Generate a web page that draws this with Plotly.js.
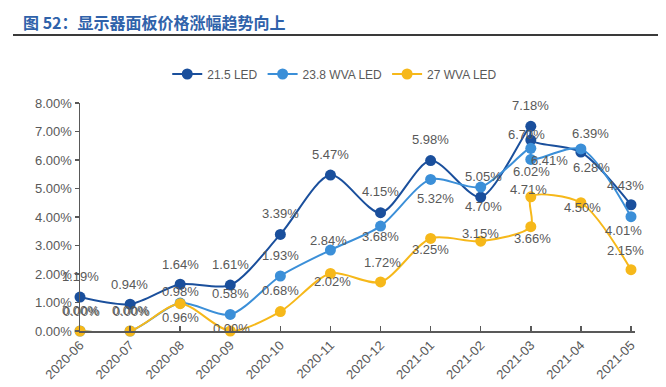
<!DOCTYPE html>
<html>
<head>
<meta charset="utf-8">
<script src="https://cdn.plot.ly/plotly-3.0.1.min.js"></script>
<style>html,body{margin:0;padding:0;background:#fff;}#chart{width:666px;height:387px;}</style>
</head>
<body>
<div id="chart"></div>
<script>
// Categories (2021-03 has two readings, both plotted in the 2021-03 column)
const months = ['2020-06','2020-07','2020-08','2020-09','2020-10','2020-11','2020-12','2021-01','2021-02','2021-03','2021-03','2021-04','2021-05'];
const tickMonths = ['2020-06','2020-07','2020-08','2020-09','2020-10','2020-11','2020-12','2021-01','2021-02','2021-03','2021-04','2021-05'];
const led215 = [1.19, 0.94, 1.64, 1.61, 3.39, 5.47, 4.15, 5.98, 4.70, 7.18, 6.70, 6.28, 4.43];
const wva238 = [0.00, 0.00, 0.98, 0.58, 1.93, 2.84, 3.68, 5.32, 5.05, 6.41, 6.02, 6.39, 4.01];
const wva27  = [0.00, 0.00, 0.96, 0.00, 0.68, 2.02, 1.72, 3.25, 3.15, 3.66, 4.71, 4.50, 2.15];
const seriesNames = ['21.5 LED', '23.8 WVA LED', '27 WVA LED'];
const yTicks = [0, 1, 2, 3, 4, 5, 6, 7, 8];

// label offsets in pixels [dx, dy(up)] relative to each point
const off215 = [[0,21],[-1,20],[0,20],[0,21],[0,21],[0,21],[0,21],[0,21],[3,-9],[0,21],[-4,6],[11,-15],[-5,19]];
const off238 = [[0,21],[0,21],[0,12],[0,21],[0,21],[-2,10],[0,-10],[5,-19],[3,11],[19,-12],[1,-12],[10,15],[-7,-14]];
const off27  = [[1,20],[1,20],[0,-14],[1,3],[0,21],[2,-8],[2,19],[0,-11],[0,8],[2,-12],[-2,7],[2,-5],[-5,19]];

const colors = ['#1a4f9c', '#3b8fd8', '#f6b81a'];
const fmt = v => v.toFixed(2) + '%';
const fam = 'Liberation Sans, Arial, sans-serif';

function mk(y, i) {
  return {
    x: months, y: y, name: seriesNames[i], type: 'scatter', mode: 'lines+markers',
    line: {color: colors[i], width: 2, shape: 'spline', smoothing: 0.8},
    marker: {color: colors[i], size: 11},
    cliponaxis: false, hoverinfo: 'skip'
  };
}

const data = [mk(led215, 0), mk(wva238, 1), mk(wva27, 2)];

const annotations = [];
[[led215, off215], [wva238, off238], [wva27, off27]].forEach(([vals, offs]) => {
  vals.forEach((v, i) => {
    annotations.push({
      xref: 'x', yref: 'y', x: months[i], y: v, text: fmt(v), showarrow: false,
      xanchor: 'center', yanchor: 'middle', xshift: offs[i][0], yshift: offs[i][1],
      font: {family: fam, size: 13, color: '#595959'}
    });
  });
});

const layout = {
  width: 666, height: 387,
  margin: {l: 80, r: 31, t: 103, b: 56},
  paper_bgcolor: '#fff', plot_bgcolor: '#fff',
  font: {family: fam, size: 12, color: '#595959'},
  title: {
    text: '<b>图 52：显示器面板价格涨幅趋势向上</b>',
    font: {family: 'Noto Sans CJK SC, sans-serif', size: 16, color: '#2f62aa'},
    xref: 'container', yref: 'container', x: 23/666, xanchor: 'left', y: 1 - 23.5/387, yanchor: 'middle'
  },
  showlegend: true,
  legend: {
    orientation: 'h', x: 0.459, xanchor: 'center', y: (331-74)/228, yanchor: 'middle',
    font: {family: fam, size: 12, color: '#595959'},
    bgcolor: 'rgba(0,0,0,0)', itemwidth: 30, tracegroupgap: 0
  },
  xaxis: {
    type: 'category', categoryorder: 'array', categoryarray: tickMonths,
    range: [0, 11.08], showgrid: false, zeroline: false,
    showline: true, linecolor: '#595959', linewidth: 1.5,
    ticks: 'inside', ticklen: 5, tickcolor: '#595959', tickwidth: 1.5,
    tickangle: -45, tickfont: {size: 13, color: '#595959'}
  },
  yaxis: {
    range: [0, 8], tickvals: yTicks, ticktext: yTicks.map(fmt),
    showgrid: false, zeroline: false,
    showline: true, linecolor: '#595959', linewidth: 1.5,
    ticks: 'outside', ticklen: 4, tickcolor: '#595959', tickwidth: 1.5,
    tickfont: {size: 13, color: '#595959'}
  },
  annotations: annotations,
  shapes: [{
    type: 'line', xref: 'paper', yref: 'paper',
    x0: (13-80)/555, x1: (658-80)/555, y0: (331-35)/228, y1: (331-35)/228,
    line: {color: '#3a3a3a', width: 2}
  }]
};

Plotly.newPlot('chart', data, layout, {displayModeBar: false, staticPlot: true});
</script>
</body>
</html>
